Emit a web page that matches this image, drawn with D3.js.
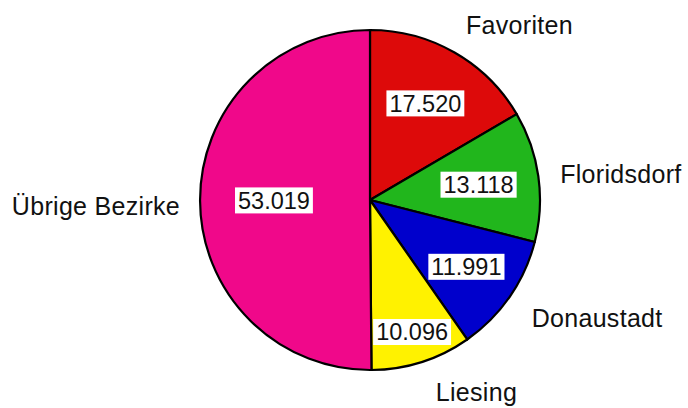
<!DOCTYPE html>
<html>
<head>
<meta charset="utf-8">
<script src="https://cdn.jsdelivr.net/npm/d3@7"></script>
<style>
  html, body { margin: 0; padding: 0; background: #fff; }
  svg { display: block; }
  text { font-family: "Liberation Sans", Arial, sans-serif; fill: #111; }
</style>
</head>
<body>
<svg id="chart" width="688" height="408"></svg>
<script>
// Wiener Bezirke – Anteile
const districts = ["Favoriten", "Floridsdorf", "Donaustadt", "Liesing", "Übrige Bezirke"];
const values = [17.520, 13.118, 11.991, 10.096, 53.019];
const valueLabels = ["17.520", "13.118", "11.991", "10.096", "53.019"];
const colors = ["#dd0a0a", "#21b61c", "#0000cc", "#fff200", "#f0088a"];

// Label layout: radius fraction for the value boxes, nudges for the names
const valueRadius = [0.655, 0.645, 0.69, 0.815, 0.565];
const nameNudge = [[3, -13], [5, 0], [8, 12], [9, 14.5], [-3, 5]];

const width = 688, height = 408;
const cx = 370, cy = 200, r = 170;

const svg = d3.select("#chart");
const g = svg.append("g").attr("transform", `translate(${cx},${cy})`);

const pie = d3.pie().sort(null).value(d => d.value);
const data = districts.map((name, i) => ({ name, value: values[i], label: valueLabels[i], color: colors[i], i }));
const arcs = pie(data);

const arc = d3.arc().innerRadius(0).outerRadius(r);

g.selectAll("path.slice")
  .data(arcs)
  .join("path")
  .attr("class", "slice")
  .attr("d", arc)
  .attr("fill", d => d.data.color)
  .attr("stroke", "#000")
  .attr("stroke-width", 2.2)
  .attr("stroke-linejoin", "round");

const mid = d => (d.startAngle + d.endAngle) / 2;

// value labels on white boxes
const vg = g.selectAll("g.val")
  .data(arcs)
  .join("g")
  .attr("class", "val")
  .attr("transform", d => {
    const a = mid(d), rr = r * valueRadius[d.data.i];
    return `translate(${Math.sin(a) * rr},${-Math.cos(a) * rr})`;
  });

vg.append("text")
  .attr("text-anchor", "middle")
  .attr("dy", "0.35em")
  .style("font-size", "23.5px")
  .text(d => d.data.label);

vg.each(function () {
  const t = d3.select(this).select("text");
  const b = t.node().getBBox();
  d3.select(this).insert("rect", "text")
    .attr("x", b.x - 3)
    .attr("y", -13)
    .attr("width", b.width + 6)
    .attr("height", 26)
    .attr("fill", "#fff");
});

// district names outside the pie
g.selectAll("text.name")
  .data(arcs)
  .join("text")
  .attr("class", "name")
  .style("font-size", "25px")
  .style("letter-spacing", "0.3px")
  .attr("text-anchor", d => Math.sin(mid(d)) < 0 ? "end" : "start")
  .attr("x", d => Math.sin(mid(d)) * r * 1.1 + nameNudge[d.data.i][0])
  .attr("y", d => -Math.cos(mid(d)) * r * 1.1 + nameNudge[d.data.i][1])
  .attr("dy", "0.35em")
  .text(d => d.data.name);
</script>
</body>
</html>
